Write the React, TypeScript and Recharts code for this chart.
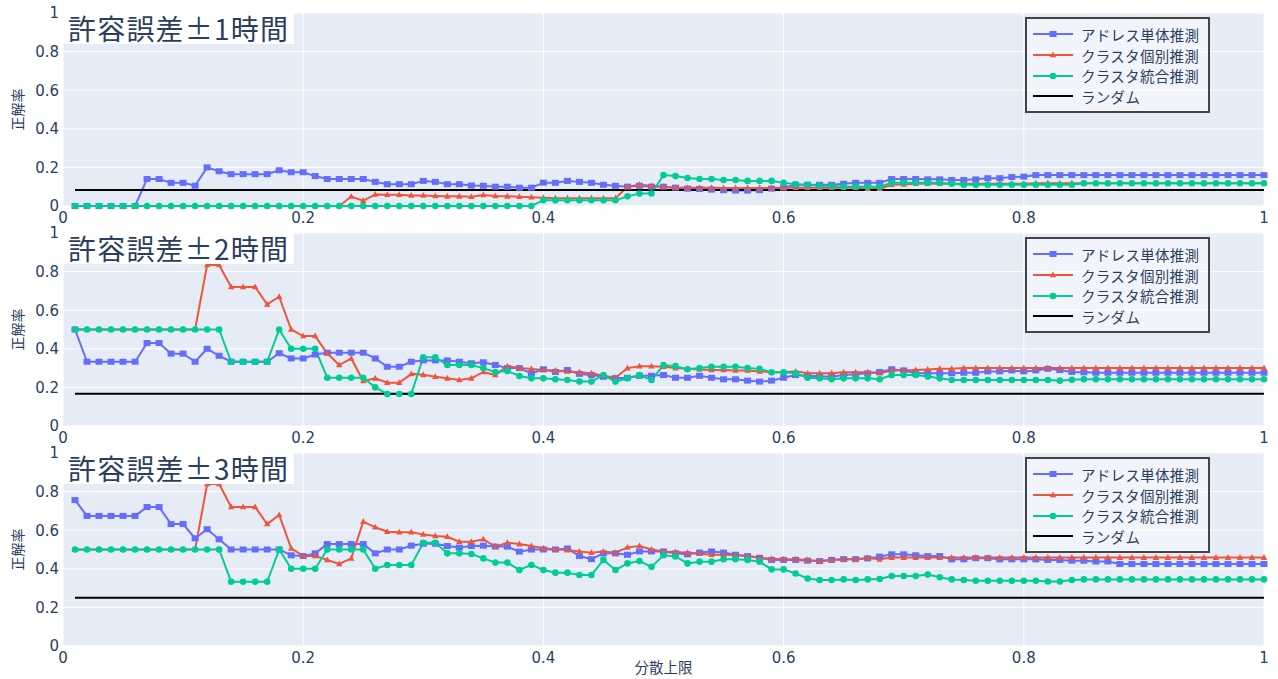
import { LineChart, Line, XAxis, YAxis, CartesianGrid, Legend } from "recharts";

// x = 分散上限
const XS = [
  0.01, 0.02, 0.03, 0.04, 0.05, 0.06, 0.07, 0.08, 0.09, 0.1,
  0.11, 0.12, 0.13, 0.14, 0.15, 0.16, 0.17, 0.18, 0.19, 0.2,
  0.21, 0.22, 0.23, 0.24, 0.25, 0.26, 0.27, 0.28, 0.29, 0.3,
  0.31, 0.32, 0.33, 0.34, 0.35, 0.36, 0.37, 0.38, 0.39, 0.4,
  0.41, 0.42, 0.43, 0.44, 0.45, 0.46, 0.47, 0.48, 0.49, 0.5,
  0.51, 0.52, 0.53, 0.54, 0.55, 0.56, 0.57, 0.58, 0.59, 0.6,
  0.61, 0.62, 0.63, 0.64, 0.65, 0.66, 0.67, 0.68, 0.69, 0.7,
  0.71, 0.72, 0.73, 0.74, 0.75, 0.76, 0.77, 0.78, 0.79, 0.8,
  0.81, 0.82, 0.83, 0.84, 0.85, 0.86, 0.87, 0.88, 0.89, 0.9,
  0.91, 0.92, 0.93, 0.94, 0.95, 0.96, 0.97, 0.98, 0.99, 1.0,
];

// 許容誤差±1時間
const ADDR_1 = [
  0, 0, 0, 0, 0, 0, 0.14, 0.14, 0.12, 0.12,
  0.105, 0.2, 0.18, 0.165, 0.165, 0.165, 0.165, 0.185, 0.175, 0.175,
  0.155, 0.14, 0.14, 0.14, 0.14, 0.125, 0.113, 0.113, 0.113, 0.13,
  0.125, 0.113, 0.113, 0.106, 0.105, 0.1, 0.1, 0.095, 0.095, 0.121,
  0.12, 0.13, 0.125, 0.12, 0.11, 0.105, 0.1, 0.105, 0.1, 0.1,
  0.095, 0.09, 0.088, 0.085, 0.082, 0.08, 0.08, 0.082, 0.09, 0.095,
  0.11, 0.11, 0.11, 0.11, 0.115, 0.12, 0.12, 0.12, 0.14, 0.14,
  0.14, 0.138, 0.138, 0.135, 0.135, 0.138, 0.144, 0.144, 0.15, 0.152,
  0.16, 0.16, 0.16, 0.16, 0.16, 0.16, 0.16, 0.16, 0.16, 0.16,
  0.16, 0.16, 0.16, 0.16, 0.16, 0.16, 0.16, 0.16, 0.16, 0.16,
];
const INDIV_1 = [
  0, 0, 0, 0, 0, 0, 0, 0, 0, 0,
  0, 0, 0, 0, 0, 0, 0, 0, 0, 0,
  0, 0, 0, 0.049, 0.028, 0.06, 0.058, 0.058, 0.055, 0.055,
  0.052, 0.05, 0.05, 0.048, 0.057, 0.052, 0.05, 0.048, 0.045, 0.043,
  0.04, 0.04, 0.04, 0.04, 0.04, 0.04, 0.1, 0.11, 0.105, 0.1,
  0.095, 0.095, 0.094, 0.094, 0.093, 0.093, 0.093, 0.093, 0.094, 0.095,
  0.095, 0.095, 0.095, 0.095, 0.095, 0.095, 0.09, 0.09, 0.11, 0.112,
  0.115, 0.115, 0.115, 0.115, 0.115, 0.115, 0.115, 0.115, 0.115, 0.115,
  0.118, 0.118, 0.118, 0.118, 0.118, 0.118, 0.118, 0.118, 0.118, 0.118,
  0.118, 0.118, 0.118, 0.118, 0.118, 0.118, 0.118, 0.118, 0.118, 0.118,
];
const MERGED_1 = [
  0, 0, 0, 0, 0, 0, 0, 0, 0, 0,
  0, 0, 0, 0, 0, 0, 0, 0, 0, 0,
  0, 0, 0, 0, 0, 0, 0, 0, 0, 0,
  0, 0, 0, 0, 0, 0, 0, 0, 0, 0.03,
  0.03, 0.03, 0.03, 0.03, 0.03, 0.03, 0.05, 0.065, 0.065, 0.16,
  0.155, 0.145, 0.14, 0.14, 0.135, 0.135, 0.13, 0.13, 0.13, 0.12,
  0.113, 0.11, 0.105, 0.103, 0.1, 0.1, 0.1, 0.1, 0.12, 0.12,
  0.12, 0.12, 0.12, 0.115, 0.11, 0.11, 0.11, 0.11, 0.11, 0.11,
  0.11, 0.11, 0.11, 0.11, 0.118, 0.118, 0.118, 0.118, 0.118, 0.118,
  0.118, 0.118, 0.118, 0.118, 0.118, 0.118, 0.118, 0.118, 0.118, 0.118,
];

// 許容誤差±2時間
const ADDR_2 = [
  0.5, 0.333, 0.333, 0.333, 0.333, 0.333, 0.43, 0.43, 0.375, 0.375,
  0.333, 0.4, 0.364, 0.333, 0.333, 0.333, 0.333, 0.377, 0.35, 0.35,
  0.37, 0.38, 0.38, 0.38, 0.38, 0.35, 0.307, 0.307, 0.333, 0.34,
  0.34, 0.34, 0.333, 0.325, 0.33, 0.316, 0.3, 0.3, 0.273, 0.294,
  0.28, 0.29, 0.27, 0.264, 0.255, 0.248, 0.25, 0.26, 0.26, 0.264,
  0.25, 0.25, 0.26, 0.25, 0.242, 0.242, 0.235, 0.23, 0.235, 0.25,
  0.264, 0.26, 0.258, 0.255, 0.264, 0.268, 0.273, 0.28, 0.294, 0.288,
  0.273, 0.273, 0.273, 0.273, 0.276, 0.276, 0.283, 0.283, 0.288, 0.283,
  0.288, 0.296, 0.29, 0.28, 0.278, 0.276, 0.276, 0.276, 0.276, 0.276,
  0.276, 0.276, 0.276, 0.276, 0.276, 0.276, 0.276, 0.276, 0.276, 0.276,
];
const INDIV_2 = [
  0.5, 0.5, 0.5, 0.5, 0.5, 0.5, 0.5, 0.5, 0.5, 0.5,
  0.5, 0.834, 0.834, 0.72, 0.72, 0.72, 0.63, 0.67, 0.5, 0.466,
  0.466, 0.377, 0.316, 0.35, 0.233, 0.247, 0.224, 0.224, 0.27, 0.265,
  0.255, 0.247, 0.238, 0.247, 0.28, 0.264, 0.31, 0.3, 0.296, 0.29,
  0.288, 0.283, 0.278, 0.273, 0.26, 0.25, 0.3, 0.31, 0.31, 0.307,
  0.3, 0.296, 0.293, 0.29, 0.29, 0.288, 0.288, 0.283, 0.278, 0.278,
  0.283, 0.273, 0.273, 0.273, 0.278, 0.278, 0.278, 0.273, 0.288, 0.288,
  0.29, 0.293, 0.296, 0.296, 0.3, 0.3, 0.3, 0.3, 0.3, 0.3,
  0.3, 0.3, 0.3, 0.3, 0.3, 0.3, 0.3, 0.3, 0.3, 0.3,
  0.3, 0.3, 0.3, 0.3, 0.3, 0.3, 0.3, 0.3, 0.3, 0.3,
];
const MERGED_2 = [
  0.5, 0.5, 0.5, 0.5, 0.5, 0.5, 0.5, 0.5, 0.5, 0.5,
  0.5, 0.5, 0.5, 0.333, 0.333, 0.333, 0.333, 0.5, 0.4, 0.4,
  0.4, 0.25, 0.25, 0.25, 0.25, 0.2, 0.166, 0.166, 0.166, 0.356,
  0.356, 0.316, 0.316, 0.316, 0.3, 0.28, 0.285, 0.259, 0.247, 0.247,
  0.242, 0.238, 0.23, 0.23, 0.264, 0.23, 0.247, 0.264, 0.238, 0.316,
  0.31, 0.294, 0.3, 0.307, 0.307, 0.307, 0.3, 0.296, 0.278, 0.278,
  0.273, 0.25, 0.247, 0.242, 0.247, 0.247, 0.247, 0.242, 0.264, 0.264,
  0.264, 0.256, 0.247, 0.238, 0.238, 0.238, 0.238, 0.238, 0.238, 0.238,
  0.238, 0.238, 0.235, 0.24, 0.242, 0.242, 0.242, 0.242, 0.242, 0.242,
  0.242, 0.242, 0.242, 0.242, 0.242, 0.242, 0.242, 0.242, 0.242, 0.242,
];

// 許容誤差±3時間
const ADDR_3 = [
  0.756, 0.674, 0.674, 0.674, 0.674, 0.674, 0.72, 0.72, 0.632, 0.632,
  0.558, 0.605, 0.553, 0.5, 0.5, 0.5, 0.5, 0.5, 0.47, 0.466,
  0.48, 0.528, 0.528, 0.528, 0.528, 0.48, 0.5, 0.5, 0.52, 0.53,
  0.53, 0.518, 0.51, 0.518, 0.52, 0.515, 0.515, 0.489, 0.5, 0.5,
  0.5, 0.505, 0.466, 0.45, 0.48, 0.48, 0.473, 0.49, 0.49, 0.49,
  0.48, 0.475, 0.484, 0.49, 0.484, 0.473, 0.466, 0.457, 0.446, 0.446,
  0.446, 0.442, 0.44, 0.446, 0.45, 0.45, 0.454, 0.463, 0.475, 0.475,
  0.47, 0.466, 0.466, 0.449, 0.449, 0.455, 0.455, 0.449, 0.449, 0.449,
  0.449, 0.446, 0.446, 0.442, 0.442, 0.438, 0.438, 0.425, 0.425, 0.425,
  0.425, 0.425, 0.425, 0.425, 0.425, 0.425, 0.425, 0.425, 0.425, 0.425,
];
const INDIV_3 = [
  0.5, 0.5, 0.5, 0.5, 0.5, 0.5, 0.5, 0.5, 0.5, 0.5,
  0.5, 0.839, 0.839, 0.72, 0.72, 0.72, 0.632, 0.679, 0.506, 0.466,
  0.466, 0.446, 0.425, 0.454, 0.644, 0.615, 0.592, 0.59, 0.59, 0.578,
  0.57, 0.566, 0.54, 0.54, 0.553, 0.515, 0.535, 0.528, 0.518, 0.506,
  0.5, 0.497, 0.49, 0.483, 0.49, 0.483, 0.511, 0.518, 0.5, 0.49,
  0.487, 0.483, 0.478, 0.473, 0.473, 0.47, 0.466, 0.457, 0.452, 0.45,
  0.45, 0.446, 0.44, 0.446, 0.45, 0.45, 0.456, 0.449, 0.458, 0.458,
  0.458, 0.458, 0.458, 0.458, 0.458, 0.458, 0.458, 0.458, 0.458, 0.458,
  0.458, 0.458, 0.458, 0.458, 0.458, 0.458, 0.458, 0.458, 0.458, 0.458,
  0.458, 0.458, 0.458, 0.458, 0.458, 0.458, 0.458, 0.458, 0.458, 0.458,
];
const MERGED_3 = [
  0.5, 0.5, 0.5, 0.5, 0.5, 0.5, 0.5, 0.5, 0.5, 0.5,
  0.5, 0.5, 0.5, 0.333, 0.333, 0.333, 0.333, 0.5, 0.4, 0.4,
  0.4, 0.5, 0.5, 0.5, 0.5, 0.4, 0.42, 0.42, 0.42, 0.535,
  0.535, 0.48, 0.48, 0.477, 0.454, 0.432, 0.432, 0.394, 0.42, 0.394,
  0.38, 0.38, 0.368, 0.368, 0.446, 0.394, 0.428, 0.44, 0.41, 0.47,
  0.464, 0.428, 0.437, 0.437, 0.45, 0.45, 0.446, 0.437, 0.397, 0.397,
  0.376, 0.35, 0.342, 0.342, 0.345, 0.342, 0.345, 0.347, 0.363, 0.363,
  0.363, 0.37, 0.356, 0.345, 0.342, 0.338, 0.338, 0.338, 0.338, 0.338,
  0.338, 0.334, 0.334, 0.342, 0.345, 0.345, 0.345, 0.345, 0.345, 0.345,
  0.345, 0.345, 0.345, 0.345, 0.345, 0.345, 0.345, 0.345, 0.345, 0.345,
];

// ランダム baseline per panel
const RANDOM_LEVELS = [0.083, 0.167, 0.25];

const TITLES = ["許容誤差±1時間", "許容誤差±2時間", "許容誤差±3時間"];
const SERIES_NAMES = {
  addr: "アドレス単体推測",
  indiv: "クラスタ個別推測",
  merged: "クラスタ統合推測",
  random: "ランダム",
};
const X_TICKS = [0, 0.2, 0.4, 0.6, 0.8, 1];
const Y_TICKS = [0, 0.2, 0.4, 0.6, 0.8, 1];

const PANELS = [
  { addr: ADDR_1, indiv: INDIV_1, merged: MERGED_1 },
  { addr: ADDR_2, indiv: INDIV_2, merged: MERGED_2 },
  { addr: ADDR_3, indiv: INDIV_3, merged: MERGED_3 },
];

const COLORS = {
  addr: "#636efa",
  indiv: "#ef553b",
  merged: "#00cc96",
  random: "#000000",
};

const TEXT = "#2a3f5f";
const TICK_FONT = "'DejaVu Sans', Verdana, sans-serif";
const CJK_FONT = "'Noto Sans CJK JP', 'Noto Sans', sans-serif";

// markers
const squareDot = (p: any) => (
  <rect
    key={`sq-${p.index}`}
    x={p.cx - 3.5}
    y={p.cy - 3}
    width={7}
    height={6}
    fill={COLORS.addr}
  />
);

const triangleDot = (p: any) => (
  <path
    key={`tr-${p.index}`}
    d={`M${p.cx},${p.cy - 3.5} L${p.cx + 3.2},${p.cy + 2.3} L${p.cx - 3.2},${p.cy + 2.3} Z`}
    fill={COLORS.indiv}
  />
);

const circleDot = (p: any) => (
  <circle key={`ci-${p.index}`} cx={p.cx} cy={p.cy} r={3.3} fill={COLORS.merged} />
);

const LegendMarker = ({ k }: { k: string }) => {
  const c = (COLORS as any)[k];
  return (
    <svg width={40} height={12} style={{ display: "block" }}>
      <line x1={0} y1={6} x2={40} y2={6} stroke={c} strokeWidth={2} />
      {k === "addr" && <rect x={16.5} y={3} width={7} height={6} fill={c} />}
      {k === "indiv" && <path d="M20,2.5 L23.2,8.3 L16.8,8.3 Z" fill={c} />}
      {k === "merged" && <circle cx={20} cy={6} r={3.3} fill={c} />}
    </svg>
  );
};

const renderLegend = (props: any) => {
  const items = props.payload || [];
  return (
    <div
      style={{
        boxSizing: "border-box",
        width: 185,
        height: 96,
        border: "2px solid #444",
        background: "rgba(255,255,255,0.45)",
        padding: "5px 0 0 6px",
        fontFamily: CJK_FONT,
        fontSize: 14.5,
        letterSpacing: 0.3,
        color: TEXT,
      }}
    >
      {items.map((it: any) => (
        <div
          key={it.dataKey}
          style={{ display: "flex", alignItems: "center", height: 20.7 }}
        >
          <LegendMarker k={it.dataKey} />
          <span style={{ marginLeft: 8, whiteSpace: "nowrap" }}>{it.value}</span>
        </div>
      ))}
    </div>
  );
};

const YTitle = (props: any) => {
  const vb = props.viewBox || { y: 13, height: 193 };
  const cy = vb.y + vb.height / 2;
  return (
    <text
      x={17}
      y={cy}
      transform={`rotate(-90 17 ${cy})`}
      textAnchor="middle"
      dominantBaseline="central"
      fill={TEXT}
      fontSize={14}
      fontFamily={CJK_FONT}
    >
      正解率
    </text>
  );
};

const Panel = ({ idx, top, height }: { idx: number; top: number; height: number }) => {
  const p = PANELS[idx];
  const rows = XS.map((x, i) => ({
    x,
    addr: p.addr[i],
    indiv: p.indiv[i],
    merged: p.merged[i],
    random: RANDOM_LEVELS[idx],
  }));
  const last = idx === 2;

  return (
    <div style={{ position: "absolute", left: 0, top, width: 1278, height }}>
      <LineChart
        width={1278}
        height={height}
        data={rows}
        margin={{ top: 13, right: 14, bottom: 0, left: 0 }}
      >
        <CartesianGrid fill="#e5ecf6" stroke="#ffffff" strokeWidth={1} />
        <XAxis
          type="number"
          dataKey="x"
          domain={[0, 1]}
          ticks={X_TICKS}
          axisLine={false}
          tickLine={false}
          tickSize={4}
          tickMargin={2}
          height={height - 206}
          tick={{ fill: TEXT, fontSize: 15, fontFamily: TICK_FONT }}
          label={
            last
              ? {
                  value: "分散上限",
                  position: "insideBottom",
                  offset: 6,
                  fill: TEXT,
                  fontSize: 14.5,
                  fontFamily: CJK_FONT,
                }
              : undefined
          }
        />
        <YAxis
          type="number"
          domain={[0, 1]}
          ticks={Y_TICKS}
          width={63}
          axisLine={false}
          tickLine={false}
          tickSize={2}
          tickMargin={2}
          tick={{ fill: TEXT, fontSize: 15, fontFamily: TICK_FONT }}
          label={<YTitle />}
        />
        <Legend
          layout="vertical"
          align="center"
          verticalAlign="middle"
          width={185}
          height={96}
          wrapperStyle={{ left: 1025, top: 17, width: 185, height: 96 }}
          content={renderLegend}
        />
        <Line
          type="linear"
          dataKey="addr"
          name={SERIES_NAMES.addr}
          stroke={COLORS.addr}
          strokeWidth={2}
          dot={squareDot}
          activeDot={false}
          isAnimationActive={false}
        />
        <Line
          type="linear"
          dataKey="indiv"
          name={SERIES_NAMES.indiv}
          stroke={COLORS.indiv}
          strokeWidth={2}
          dot={triangleDot}
          activeDot={false}
          isAnimationActive={false}
        />
        <Line
          type="linear"
          dataKey="merged"
          name={SERIES_NAMES.merged}
          stroke={COLORS.merged}
          strokeWidth={2}
          dot={circleDot}
          activeDot={false}
          isAnimationActive={false}
        />
        <Line
          type="linear"
          dataKey="random"
          name={SERIES_NAMES.random}
          stroke={COLORS.random}
          strokeWidth={2}
          dot={false}
          activeDot={false}
          isAnimationActive={false}
        />
      </LineChart>
      {/* panel title box */}
      <div
        style={{
          position: "absolute",
          left: 63,
          top: 13,
          height: 31,
          lineHeight: "31px",
          padding: "0 5px 0 5px",
          background: "#ffffff",
          color: TEXT,
          fontFamily: CJK_FONT,
          fontSize: 28,
          letterSpacing: 1.2,
          whiteSpace: "nowrap",
        }}
      >
        {TITLES[idx]}
      </div>
    </div>
  );
};

export default function App() {
  return (
    <div
      style={{
        position: "absolute",
        left: 0,
        top: 0,
        width: 1278,
        height: 679,
        background: "#ffffff",
        overflow: "hidden",
      }}
    >
      <Panel idx={0} top={0} height={232} />
      <Panel idx={1} top={220} height={232} />
      <Panel idx={2} top={440} height={239} />
    </div>
  );
}
